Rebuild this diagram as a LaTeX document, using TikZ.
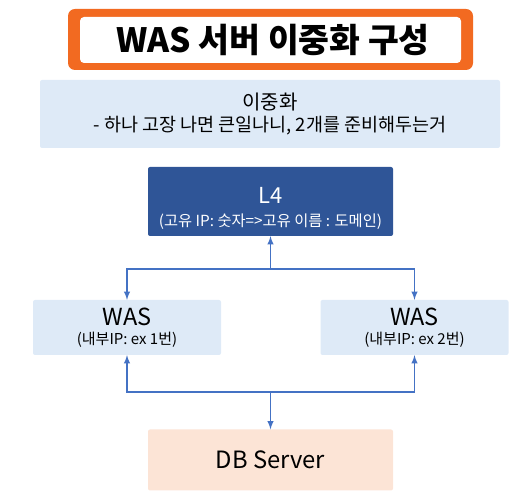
\documentclass[tikz,border=0pt]{standalone}
\usepackage{fontspec}
\setmainfont{Noto Sans CJK KR}
\usetikzlibrary{arrows,positioning}
\definecolor{titleorange}{RGB}{242,106,33}
\definecolor{paleblue}{RGB}{222,234,247}
\definecolor{darkblue}{RGB}{47,85,151}
\definecolor{peach}{RGB}{252,228,214}
\definecolor{linkblue}{RGB}{68,114,196}
\tikzset{
  infonode/.style = {rectangle, fill=paleblue, rounded corners=2pt, align=center, inner sep=0pt},
  lbnode/.style = {rectangle, fill=darkblue, text=white, rounded corners=2pt, align=center, inner sep=0pt, minimum width=245pt, minimum height=69pt},
  wasnode/.style = {rectangle, fill=paleblue, rounded corners=2pt, align=center, inner sep=0pt, minimum width=188pt, minimum height=55pt},
  dbnode/.style = {rectangle, fill=peach, rounded corners=2pt, align=center, inner sep=0pt, minimum width=245pt, minimum height=61pt},
  link/.style = {draw=linkblue, line width=1.8pt}
}

\begin{document}
\begin{tikzpicture}[x=1pt,y=-1pt,>=latex]
\useasboundingbox (0,0) rectangle (528,502);
% title
\fill[titleorange, rounded corners=7pt] (68,9) rectangle (473,70);
\fill[white, rounded corners=4pt] (80,17) rectangle (461,63);
\node (title) at (273,40) {\fontsize{33.5}{36}\selectfont\bfseries WAS 서버 이중화 구성};

\node [infonode, minimum width=460pt, minimum height=68pt] (info) at (270,114)
    {\fontsize{20}{25}\selectfont 이중화\\[5pt] \fontsize{18.5}{20}\selectfont - 하나 고장 나면 큰일나니, 2개를 준비해두는거};
\node [lbnode] (lb) at (270.5,201.5)
    {\rule{0pt}{30pt}\fontsize{22}{26}\selectfont L4\\[10pt] \fontsize{15.3}{18}\selectfont (고유 IP: 숫자=>고유 이름 : 도메인)};
\node [wasnode] (wasA) at (127,327.5)
    {\fontsize{23.5}{24}\selectfont WAS\\[5pt] \fontsize{15}{18}\selectfont (내부IP: ex 1번)};
\node [wasnode] (wasB) at (414.5,327.5)
    {\fontsize{23.5}{24}\selectfont WAS\\[5pt] \fontsize{15}{18}\selectfont (내부IP: ex 2번)};
\node [dbnode] (db) at (270.5,460) {\fontsize{23.8}{26}\selectfont DB Server};

% L4 <-> WAS
\coordinate (upj) at (270.5,269);
\draw [link,->] (upj) -- (lb.south);
\draw [link,->] (upj) -| (wasA.north);
\draw [link,->] (upj) -| (wasB.north);
% WAS <-> DB
\coordinate (dnj) at (270.5,392);
\draw [link,->] (dnj) -- (db.north);
\draw [link,->] (dnj) -| (wasA.south);
\draw [link,->] (dnj) -| (wasB.south);
\end{tikzpicture}
\end{document}
